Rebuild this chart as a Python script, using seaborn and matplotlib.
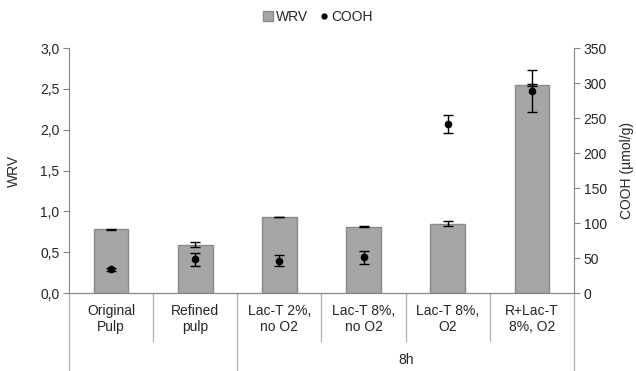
import numpy as np
import pandas as pd
import seaborn as sns
import matplotlib.pyplot as plt
from matplotlib.lines import Line2D
from matplotlib.patches import Patch
from matplotlib.ticker import FuncFormatter, MultipleLocator

# data
categories = ["Original\nPulp", "Refined\npulp", "Lac-T 2%,\nno O2",
              "Lac-T 8%,\nno O2", "Lac-T 8%,\nO2", "R+Lac-T\n8%, O2"]
wrv = [0.78, 0.59, 0.93, 0.81, 0.85, 2.55]
wrv_err = [0.005, 0.03, 0.005, 0.005, 0.03, 0.01]
cooh = [34, 48, 46, 51, 241, 289]
cooh_err = [2, 9, 8, 9, 13, 30]
group_labels = ["", "8h"]
group_spans = [(0, 1), (2, 5)]

sns.set_style("white")
plt.rcParams['font.family'] = ['Liberation Sans', 'DejaVu Sans']
plt.rcParams['font.size'] = 10

axis_grey = "#868686"
bar_grey = "#A6A6A6"

df = pd.DataFrame({"sample": categories, "WRV": wrv})

fig = plt.figure(figsize=(6.36, 3.71), dpi=100)
ax = fig.add_axes([0.1085, 0.2102, 0.794, 0.6604])

sns.barplot(data=df, x="sample", y="WRV", order=categories, color=bar_grey,
            width=0.41, edgecolor="#8a8a8a", linewidth=1, saturation=1,
            errorbar=None, ax=ax)
xpos = np.arange(len(categories))
ax.errorbar(xpos, wrv, yerr=wrv_err, fmt="none", ecolor="black",
            elinewidth=1.0, capsize=3.5, capthick=1.0, zorder=3)

ax2 = ax.twinx()
ax2.errorbar(xpos, cooh, yerr=cooh_err, fmt="o", color="black", ms=4.5,
             ecolor="black", elinewidth=1.0, capsize=3.5, capthick=1.0, zorder=4)

ax.set_xlim(-0.5, len(categories) - 0.5)
ax.set_ylim(0, 3.0)
ax2.set_ylim(0, 350)
ax.yaxis.set_major_locator(MultipleLocator(0.5))
ax2.yaxis.set_major_locator(MultipleLocator(50))
ax.yaxis.set_major_formatter(FuncFormatter(lambda v, p: f"{v:.1f}".replace(".", ",")))

for a in (ax, ax2):
    for s in a.spines.values():
        s.set_color(axis_grey)
    a.spines["top"].set_visible(False)
    a.tick_params(axis="y", direction="out", length=4, color=axis_grey,
                  labelsize=10, pad=3)

ax.spines["right"].set_visible(False)
ax2.spines["left"].set_visible(False)
ax.tick_params(axis="x", length=0, pad=8, labelsize=10)
ax.set_xlabel("")
ax.set_ylabel("WRV", fontsize=10, labelpad=14)
ax2.set_ylabel("COOH (µmol/g)", fontsize=10, labelpad=9)

# category dividers below the axis
ymin_short = (293 - 341) / 245
ymin_long = (293 - 371) / 245
trans = ax.get_xaxis_transform()
long_edges = {-0.5, 1.5, len(categories) - 0.5}
for edge in np.arange(-0.5, len(categories), 1.0):
    y_end = ymin_long if edge in long_edges else ymin_short
    ax.plot([edge, edge], [0, y_end], color="#b0b0b0", lw=0.9,
            transform=trans, clip_on=False)

for label, (a, b) in zip(group_labels, group_spans):
    ax.text((a + b) / 2, (293 - 360) / 245, label, transform=trans,
            ha="center", va="center", fontsize=10)

handles = [Patch(facecolor=bar_grey, edgecolor="#8a8a8a", label="WRV"),
           Line2D([], [], marker="o", color="black", ls="none", ms=3.5, label="COOH")]
fig.legend(handles=handles, loc="center", bbox_to_anchor=(0.5, 0.955), ncol=2,
           frameon=False, fontsize=10, handlelength=0.7, handletextpad=0.2,
           columnspacing=0.8)

fig.savefig("out.png", dpi=100)
